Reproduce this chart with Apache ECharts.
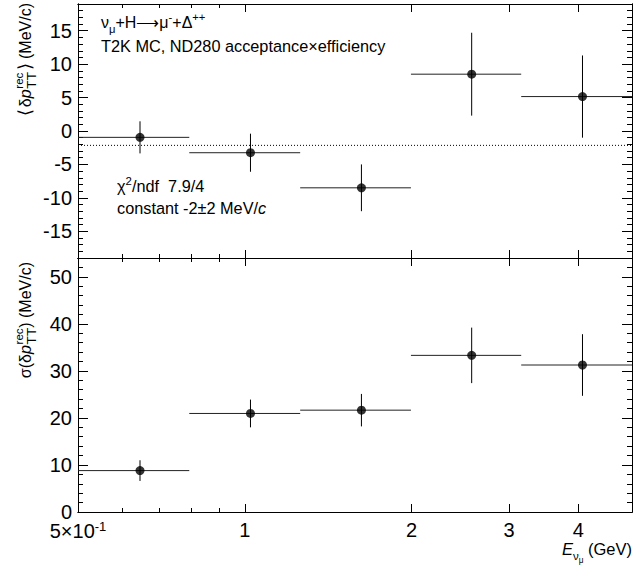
<!DOCTYPE html>
<html><head><meta charset="utf-8">
<script src="https://cdn.jsdelivr.net/npm/echarts@6/dist/echarts.min.js"></script>
<style>html,body{margin:0;padding:0;background:#fff}#c{width:636px;height:567px}</style>
</head><body><div id="c"></div>
<script>
// ---- data ----
const binEdges = [0.5, 0.794, 1.259, 1.995, 3.155, 5.0];
const binCenters = [0.647, 1.024, 1.624, 2.568, 4.07];
const meanValues = [-0.95, -3.25, -8.5, 8.5, 5.15];
const meanErrors = [2.4, 2.85, 3.5, 6.2, 6.15];
const sigmaValues = [8.8, 20.95, 21.65, 33.3, 31.25];
const sigmaErrors = [2.2, 2.95, 3.45, 5.9, 6.55];
const fitConstant = -2.15;
const xRange = [0.5, 5];
const xMajorTicks = [0.5, 1, 2, 3, 4];
const xMinorTicks = [0.6, 0.7, 0.8, 0.9];
const meanRange = [-19, 19];
const meanMajorTicks = [-15, -10, -5, 0, 5, 10, 15];
const meanMinorTicks = [-18, -17, -16, -14, -13, -12, -11, -9, -8, -7, -6, -4, -3, -2, -1, 1, 2, 3, 4, 6, 7, 8, 9, 11, 12, 13, 14, 16, 17, 18];
const sigmaRange = [0, 54];
const sigmaMajorTicks = [0, 10, 20, 30, 40, 50];
const sigmaMinorTicks = [2, 4, 6, 8, 12, 14, 16, 18, 22, 24, 26, 28, 32, 34, 36, 38, 42, 44, 46, 48, 52];

const FAM = '"Liberation Sans", Arial, sans-serif';
const BLACK = '#000';
const AX = {color: BLACK, width: 1};

const chart = echarts.init(document.getElementById('c'), null, {renderer: 'svg'});

function xAx(grid, pos, ticks, len, labels) {
  return {
    type: 'log', logBase: 10, gridIndex: grid, position: pos, min: xRange[0], max: xRange[1],
    axisLine: {show: true, onZero: false, lineStyle: AX},
    axisTick: {show: true, inside: true, length: len, customValues: ticks, lineStyle: AX},
    axisLabel: labels ? {
      show: true, customValues: xMajorTicks, margin: 8, color: BLACK, fontSize: 20, fontFamily: FAM,
      formatter: v => Math.abs(v - 0.5) < 1e-6 ? '{n|5×10}{s|-1}' : '{n|' + Math.round(v) + '}',
      rich: {n: {fontSize: 20, fontFamily: FAM, color: BLACK}, s: {fontSize: 13, fontFamily: FAM, color: BLACK, verticalAlign: 'top', padding: [0, 0, 8, 0]}}
    } : {show: false},
    splitLine: {show: false}, minorTick: {show: false}, minorSplitLine: {show: false}
  };
}
function yAx(grid, pos, range, ticks, len, labels) {
  return {
    type: 'value', gridIndex: grid, position: pos, min: range[0], max: range[1],
    axisLine: {show: true, onZero: false, lineStyle: AX},
    axisTick: {show: true, inside: true, length: len, customValues: ticks, lineStyle: AX},
    axisLabel: labels ? {show: true, customValues: ticks, margin: 6, color: BLACK, fontSize: 20, lineHeight: 14, fontFamily: FAM} : {show: false},
    splitLine: {show: false}
  };
}

function errSeries(xi, yi, vals, errs) {
  return {
    type: 'custom', xAxisIndex: xi, yAxisIndex: yi, silent: true, z: 3,
    data: binCenters.map((x, i) => [x, vals[i], binEdges[i], binEdges[i + 1], errs[i]]),
    encode: {x: 0, y: 1},
    renderItem: (params, api) => {
      const v = api.value(1);
      const c = api.coord([api.value(0), v]);
      const l = api.coord([api.value(2), v]);
      const r = api.coord([api.value(3), v]);
      const t = api.coord([api.value(0), v + api.value(4)]);
      const b = api.coord([api.value(0), v - api.value(4)]);
      return {type: 'group', children: [
        {type: 'line', shape: {x1: l[0], y1: c[1], x2: r[0], y2: c[1]}, style: {stroke: '#222', lineWidth: 1}},
        {type: 'line', shape: {x1: c[0], y1: t[1], x2: c[0], y2: b[1]}, style: {stroke: BLACK, lineWidth: 1}}
      ]};
    }
  };
}
function pointSeries(xi, yi, vals) {
  return {
    type: 'scatter', xAxisIndex: xi, yAxisIndex: yi, silent: true, z: 4,
    symbol: 'circle', symbolSize: 9, itemStyle: {color: BLACK},
    data: binCenters.map((x, i) => [x, vals[i]])
  };
}

// ---- rich formula text builder ----
const mctx = document.createElement('canvas').getContext('2d');
function tw(t, size, it) { mctx.font = (it ? 'italic ' : '') + size + 'px ' + FAM; return mctx.measureText(t).width; }
function formula(parts, size) {
  let x = 0, kids = [], stackStart = null, stackW = 0;
  parts.forEach(p => {
    const fs = size * (p.s || 1);
    const w = tw(p.t, fs, p.it) + (p.gap || 0) * size;
    const px = (stackStart !== null ? stackStart : x) + (p.pre || 0) * size;
    kids.push({type: 'text', x: px, y: (p.dy || 0) * size - 0.35 * fs, silent: true,
      style: {text: p.t, fontSize: fs, fontFamily: FAM, fontStyle: p.it ? 'italic' : 'normal', fill: BLACK, align: 'left', verticalAlign: 'middle'}});
    const adv = w + (p.pre || 0) * size;
    if (p.stack) { stackStart = x; stackW = adv; }
    else if (stackStart !== null) { x = stackStart + Math.max(stackW, adv); stackStart = null; }
    else x += adv;
  });
  return {kids, width: x};
}
function hText(parts, size, x, baseline, alignRight) {
  const f = formula(parts, size);
  return {type: 'group', x: alignRight ? x - f.width : x, y: baseline, children: f.kids};
}
function vTextEnd(parts, size, baselineX, endY) {
  const f = formula(parts, size);
  return {type: 'group', x: baselineX, y: endY + f.width, rotation: Math.PI / 2, children: f.kids};
}

const graphics = [
  hText([{t: 'ν'}, {t: 'μ', s: 0.7, dy: 0.3}, {t: '+H'}, {t: '⟶'}, {t: 'μ'}, {t: '-', s: 0.7, dy: -0.45}, {t: '+Δ'}, {t: '++', s: 0.7, dy: -0.45}], 16, 101, 28),
  hText([{t: 'T2K MC, ND280 acceptance×efficiency'}], 16.3, 101, 52),
  hText([{t: 'χ'}, {t: '2', s: 0.7, dy: -0.45}, {t: '/ndf  7.9/4'}], 16.3, 117, 192),
  hText([{t: 'constant -2±2 MeV/'}, {t: 'c', it: 1}], 16.3, 117, 214),
  hText([{t: 'E', it: 1}, {t: 'ν', s: 0.7, dy: 0.3}, {t: 'μ', s: 0.5, dy: 0.5}, {t: ' (GeV)'}], 16.5, 632, 555, true),
  vTextEnd([{t: '⟨', s: 1.1, gap: 0.1}, {t: 'δ'}, {t: 'p', it: 1, gap: 0.05}, {t: 'rec', s: 0.72, dy: -0.5, stack: 1}, {t: 'TT', s: 0.85, dy: 0.35}, {t: '⟩', s: 1.1, pre: 0.1}, {t: ' (MeV/c)'}], 16, 31, 3),
  vTextEnd([{t: 'σ(δ'}, {t: 'p', it: 1, gap: 0.05}, {t: 'rec', s: 0.72, dy: -0.5, stack: 1}, {t: 'TT', s: 0.85, dy: 0.35}, {t: ') (MeV/c)'}], 16, 31, 262)
];

const option = {
  animation: false,
  backgroundColor: '#fff',
  grid: [
    {left: 78, right: 4, top: 4, height: 254, containLabel: false},
    {left: 78, right: 4, top: 258, height: 254, containLabel: false}
  ],
  xAxis: [
    xAx(0, 'bottom', xMajorTicks, 8, false),
    xAx(0, 'bottom', xMinorTicks, 4, false),
    xAx(0, 'top', xMajorTicks, 8, false),
    xAx(0, 'top', xMinorTicks, 4, false),
    xAx(1, 'bottom', xMajorTicks, 8, true),
    xAx(1, 'bottom', xMinorTicks, 4, false),
    xAx(1, 'top', xMajorTicks, 8, false),
    xAx(1, 'top', xMinorTicks, 4, false)
  ],
  yAxis: [
    yAx(0, 'left', meanRange, meanMajorTicks, 10, true),
    yAx(0, 'left', meanRange, meanMinorTicks, 5, false),
    yAx(0, 'right', meanRange, meanMajorTicks, 10, false),
    yAx(0, 'right', meanRange, meanMinorTicks, 5, false),
    yAx(1, 'left', sigmaRange, sigmaMajorTicks, 10, true),
    yAx(1, 'left', sigmaRange, sigmaMinorTicks, 5, false),
    yAx(1, 'right', sigmaRange, sigmaMajorTicks, 10, false),
    yAx(1, 'right', sigmaRange, sigmaMinorTicks, 5, false)
  ],
  series: [
    {type: 'line', xAxisIndex: 0, yAxisIndex: 0, silent: true, symbol: 'none', z: 2,
     lineStyle: {color: BLACK, width: 1, type: [1, 2]},
     data: [[xRange[0], fitConstant], [xRange[1], fitConstant]]},
    errSeries(0, 0, meanValues, meanErrors),
    pointSeries(0, 0, meanValues),
    errSeries(4, 4, sigmaValues, sigmaErrors),
    pointSeries(4, 4, sigmaValues)
  ],
  graphic: graphics
};
chart.setOption(option);
</script></body></html>
